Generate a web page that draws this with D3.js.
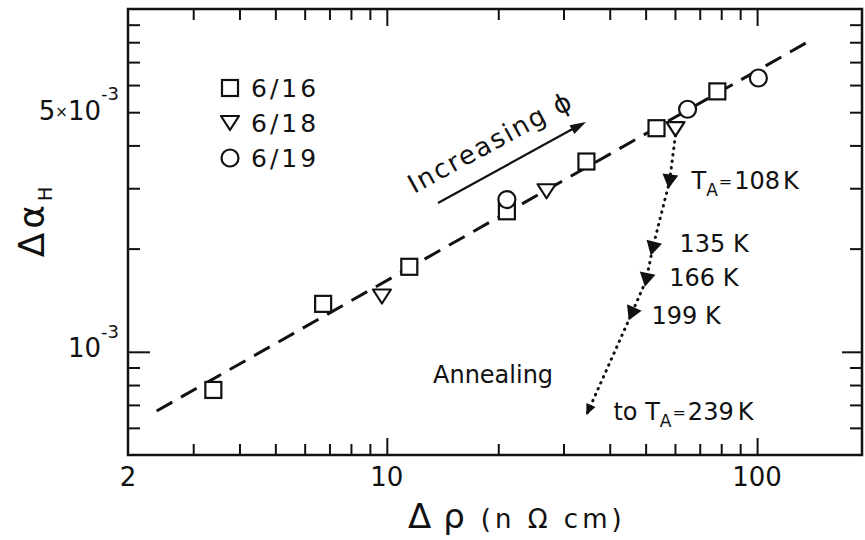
<!DOCTYPE html>
<html>
<head>
<meta charset="utf-8">
<script src="https://cdn.jsdelivr.net/npm/d3@7"></script>
<style>
  html, body { margin: 0; padding: 0; background: #fff; }
  svg text { font-family: "DejaVu Sans", sans-serif; fill: #111; }
</style>
</head>
<body>
<svg id="chart" width="865" height="540"></svg>
<script>
// Hall coefficient change vs resistivity change, three irradiation runs
const sq16X = [3.40, 6.73, 11.5, 21.1, 34.6, 53.5, 78.1];
const sq16Y = [7.74e-4, 1.38e-3, 1.77e-3, 2.57e-3, 3.59e-3, 4.49e-3, 5.75e-3];
const tri18X = [9.7, 27.0, 60.2];
const tri18Y = [1.45e-3, 2.94e-3, 4.46e-3];
const circ19X = [21.1, 64.9, 100.8];
const circ19Y = [2.78e-3, 5.10e-3, 6.29e-3];

// annealing sequence of the 6/18 sample
const annealT = [108, 135, 166, 199];
const annealX = [58.0, 52.2, 50.2, 45.8];
const annealY = [3.14e-3, 2.0e-3, 1.62e-3, 1.29e-3];
const annealEndT = 239;
const annealEnd = [34.6, 6.54e-4];

// straight-line fit on the log-log plot
const fitX = [2.39, 140];
const fitY = [6.72e-4, 8.12e-3];

const legendLabels = ["6/16", "6/18", "6/19"];
const xMinorTicks = [3, 4, 5, 6, 7, 8, 9, 20, 30, 40, 50, 60, 70, 80, 90];
const xMajorTicks = [10, 100];
const xTickLabels = [2, 10, 100];
const yMinorTicks = [6e-4, 7e-4, 8e-4, 9e-4, 2e-3, 3e-3, 4e-3, 5e-3, 6e-3, 7e-3, 8e-3, 9e-3];
const yMajorTicks = [1e-3];

const svg = d3.select("#chart");
const L = 128, R = 862, T = 9, B = 455;
const x = d3.scaleLog().domain([2, 192]).range([L, R]);
const y = d3.scaleLog().domain([5e-4, 1e-2]).range([B, T]);
const ink = "#111";

// frame
svg.append("rect").attr("x", L).attr("y", T).attr("width", R - L).attr("height", B - T)
  .attr("fill", "none").attr("stroke", ink).attr("stroke-width", 2.5);

function styleAxis(g) {
  g.select(".domain").remove();
  g.selectAll(".tick line").attr("stroke", ink).attr("stroke-width", 2);
}
// inward ticks on all four sides
svg.append("g").attr("transform", `translate(0,${B})`)
  .call(d3.axisBottom(x).tickValues(xMinorTicks).tickSize(-11).tickFormat("")).call(styleAxis);
svg.append("g").attr("transform", `translate(0,${B})`)
  .call(d3.axisBottom(x).tickValues(xMajorTicks).tickSize(-17).tickFormat("")).call(styleAxis);
svg.append("g").attr("transform", `translate(0,${T})`)
  .call(d3.axisTop(x).tickValues(xMinorTicks).tickSize(-11).tickFormat("")).call(styleAxis);
svg.append("g").attr("transform", `translate(0,${T})`)
  .call(d3.axisTop(x).tickValues(xMajorTicks).tickSize(-17).tickFormat("")).call(styleAxis);
svg.append("g").attr("transform", `translate(${L},0)`)
  .call(d3.axisLeft(y).tickValues(yMinorTicks).tickSize(-12).tickFormat("")).call(styleAxis);
svg.append("g").attr("transform", `translate(${L},0)`)
  .call(d3.axisLeft(y).tickValues(yMajorTicks).tickSize(-22).tickFormat("")).call(styleAxis);
svg.append("g").attr("transform", `translate(${R},0)`)
  .call(d3.axisRight(y).tickValues(yMinorTicks).tickSize(-12).tickFormat("")).call(styleAxis);
svg.append("g").attr("transform", `translate(${R},0)`)
  .call(d3.axisRight(y).tickValues(yMajorTicks).tickSize(-20).tickFormat("")).call(styleAxis);

// x tick labels
xTickLabels.forEach(v => {
  svg.append("text").attr("x", x(v)).attr("y", 486).attr("text-anchor", "middle")
    .attr("font-size", 26).text(String(v));
});
// y tick labels
const lab5 = svg.append("text").attr("x", 101).attr("y", 120).attr("text-anchor", "end").attr("font-size", 26);
lab5.append("tspan").text("5");
lab5.append("tspan").attr("font-size", 15).attr("dy", -3).text("×");
lab5.append("tspan").attr("dy", 3).text("10");
svg.append("text").attr("x", 101).attr("y", 100).attr("font-size", 18).text("-3");
svg.append("text").attr("x", 101).attr("y", 357).attr("text-anchor", "end").attr("font-size", 26).text("10");
svg.append("text").attr("x", 101).attr("y", 338).attr("font-size", 18).text("-3");

// axis titles
const yt = svg.append("text").attr("transform", "translate(44,222) rotate(-90)")
  .attr("text-anchor", "middle").attr("font-size", 36);
yt.append("tspan").attr("letter-spacing", 4).text("Δα");
yt.append("tspan").attr("font-size", 19).attr("dy", 8).text("H");

const xt = svg.append("text").attr("x", 408).attr("y", 528).attr("font-size", 34);
xt.append("tspan").attr("letter-spacing", 12).text("Δρ");
xt.append("tspan").attr("dx", 4).attr("font-size", 26).attr("letter-spacing", 4).text("(n Ω cm)");

// fit line
svg.append("line")
  .attr("x1", x(fitX[0])).attr("y1", y(fitY[0]))
  .attr("x2", x(fitX[1])).attr("y2", y(fitY[1]))
  .attr("stroke", ink).attr("stroke-width", 3).attr("stroke-dasharray", "18,10");

// markers
const sqSize = 16;
function drawSquare(cx, cy) {
  svg.append("rect").attr("x", cx - sqSize / 2).attr("y", cy - sqSize / 2)
    .attr("width", sqSize).attr("height", sqSize)
    .attr("fill", "#fff").attr("stroke", ink).attr("stroke-width", 2.2);
}
function drawTri(cx, cy) {
  const h = 14, w = 18;
  svg.append("path")
    .attr("d", `M${cx - w / 2},${cy - h / 2}L${cx + w / 2},${cy - h / 2}L${cx},${cy + h / 2}Z`)
    .attr("fill", "#fff").attr("stroke", ink).attr("stroke-width", 2.2).attr("stroke-linejoin", "round");
}
function drawCirc(cx, cy) {
  svg.append("circle").attr("cx", cx).attr("cy", cy).attr("r", 8.5)
    .attr("fill", "#fff").attr("stroke", ink).attr("stroke-width", 2.2);
}
sq16X.forEach((v, i) => drawSquare(x(v), y(sq16Y[i])));
tri18X.forEach((v, i) => drawTri(x(v), y(tri18Y[i])));
circ19X.forEach((v, i) => drawCirc(x(v), y(circ19Y[i])));

// legend
const legendDraw = [drawSquare, drawTri, drawCirc];
legendLabels.forEach((t, i) => {
  const cy = 88 + i * 35;
  legendDraw[i](230, cy);
  svg.append("text").attr("x", 251).attr("y", cy + 9).attr("font-size", 25)
    .attr("letter-spacing", 3).text(t);
});

// annealing path (dotted) with filled arrowheads at each step
const pts = [[x(tri18X[2]), y(tri18Y[2]) + 6]]
  .concat(annealX.map((v, i) => [x(v), y(annealY[i])]))
  .concat([[x(annealEnd[0]), y(annealEnd[1])]]);
svg.append("path").attr("d", d3.line()(pts))
  .attr("fill", "none").attr("stroke", ink).attr("stroke-width", 3)
  .attr("stroke-linecap", "round").attr("stroke-dasharray", "0.5,6");

function arrowHead(p0, p1, size, wide) {
  const ang = Math.atan2(p1[1] - p0[1], p1[0] - p0[0]) * 180 / Math.PI;
  svg.append("path")
    .attr("d", `M0,0L${-size},${-wide}L${-size},${wide}Z`)
    .attr("transform", `translate(${p1[0]},${p1[1]}) rotate(${ang})`)
    .attr("fill", ink);
}
for (let i = 1; i < pts.length; i++) {
  const last = i === pts.length - 1;
  if (last) arrowHead(pts[i - 1], pts[i], 11, 5);
  else {
    // step markers: tip a little beyond the data point so the head is centred on it
    const p0 = pts[i - 1], p1 = pts[i];
    const dx = p1[0] - p0[0], dy = p1[1] - p0[1], d = Math.hypot(dx, dy);
    arrowHead(p0, [p1[0] + dx / d * 7, p1[1] + dy / d * 7], 14, 8);
  }
}

// annealing labels
const ta = svg.append("text").attr("x", x(annealX[0]) + 22).attr("y", y(annealY[0]) + 8).attr("font-size", 24);
ta.append("tspan").text("T");
ta.append("tspan").attr("font-size", 17).attr("dy", 7).text("A");
ta.append("tspan").attr("dy", -9).attr("dx", 1).attr("font-size", 16).text("=");
ta.append("tspan").attr("dy", 2).attr("dx", 2).text(`${annealT[0]}`);
ta.append("tspan").attr("dx", 3).text("K");
const labOff = [[0, 0], [27, 3], [23, 6], [20, 10]];
for (let i = 1; i < annealT.length; i++) {
  svg.append("text").attr("x", x(annealX[i]) + labOff[i][0]).attr("y", y(annealY[i]) + labOff[i][1])
    .attr("font-size", 24).text(`${annealT[i]} K`);
}
const te = svg.append("text").attr("x", x(annealEnd[0]) + 27).attr("y", y(annealEnd[1]) + 5).attr("font-size", 24);
te.append("tspan").text("to T");
te.append("tspan").attr("font-size", 17).attr("dy", 7).text("A");
te.append("tspan").attr("dy", -9).attr("dx", 1).attr("font-size", 16).text("=");
te.append("tspan").attr("dy", 2).attr("dx", 2).text(`${annealEndT}`);
te.append("tspan").attr("dx", 4).text("K");

svg.append("text").attr("x", 433).attr("y", 383).attr("font-size", 24).text("Annealing");

// increasing fluence arrow
svg.append("line").attr("x1", 438).attr("y1", 203).attr("x2", 578).attr("y2", 126)
  .attr("stroke", ink).attr("stroke-width", 2.2);
arrowHead([438, 203], [586, 122], 16, 5);
svg.append("text").attr("transform", "translate(414,194) rotate(-28.5)")
  .attr("font-size", 26).attr("letter-spacing", 2).text("Increasing ϕ");
</script>
</body>
</html>
